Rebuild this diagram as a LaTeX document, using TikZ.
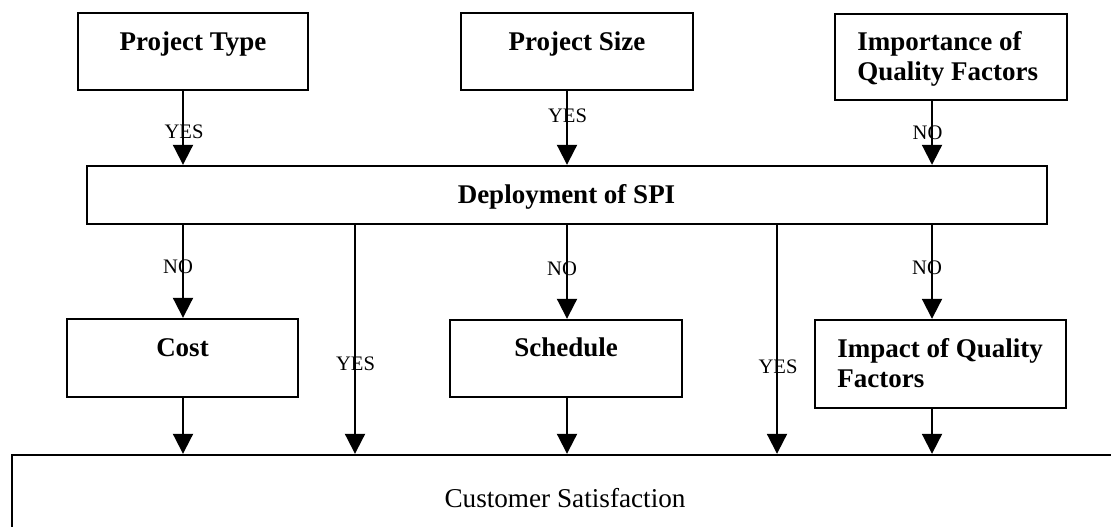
\documentclass[tikz,border=0pt]{standalone}
\usepackage{fontspec}
\setmainfont{Liberation Serif}
\usetikzlibrary{arrows.meta,fit}
\begin{document}
\begin{tikzpicture}[x=0.5pt,y=-0.5pt,
  box/.style={draw,line width=1.2pt,inner sep=0pt},
  arr/.style={line width=1pt,-{Triangle[length=10pt,width=10pt]}},
  txt/.style={font=\fontsize{13.5}{15}\selectfont\bfseries,inner sep=0pt,anchor=base},
  mtxt/.style={font=\fontsize{13.5}{15}\selectfont\bfseries,inner sep=0pt,anchor=north west,align=left},
  ctxt/.style={font=\fontsize{13.6}{15}\selectfont,inner sep=0pt,anchor=base},
  lbl/.style={font=\fontsize{10.3}{12}\selectfont,inner sep=0pt,anchor=base}]
\useasboundingbox (0,0) rectangle (1111,526);
\fill[white] (0,0) rectangle (1111,526);
\clip (0,0) rectangle (1111,526);

% column positions
\coordinate (c1) at (183,0);
\coordinate (c2) at (355,0);
\coordinate (c3) at (567,0);
\coordinate (c4) at (777,0);
\coordinate (c5) at (932,0);

% boxes
\node[box,fit={(78,13) (308,90)}] (pt) {};
\node[box,fit={(461,13) (693,90)}] (ps) {};
\node[box,fit={(835,14) (1067,100)}] (iq) {};
\node[box,fit={(87,166) (1047,224)}] (dep) {};
\node[box,fit={(67,319) (298,397)}] (cost) {};
\node[box,fit={(450,320) (682,397)}] (sch) {};
\node[box,fit={(815,320) (1066,408)}] (imp) {};
\node[box,fit={(12,455) (1130,560)}] (cs) {};

% texts
\node[txt] (tpt) at (193,50) {Project Type};
\node[txt] (tps) at (577,50) {Project Size};
\node[mtxt] (tiq) at (857,31.5) {Importance of\\Quality Factors};
\node[txt] (tdep) at (566.5,203) {Deployment of SPI};
\node[txt] (tcost) at (182.5,356) {Cost};
\node[txt] (tsch) at (566,356) {Schedule};
\node[mtxt] (timp) at (837,338.5) {Impact of Quality\\Factors};
\node[ctxt] (tcs) at (565,507) {Customer Satisfaction};

% connectors
\draw[arr] (pt.south -| c1) -- (dep.north -| c1);
\draw[arr] (ps.south -| c3) -- (dep.north -| c3);
\draw[arr] (iq.south -| c5) -- (dep.north -| c5);
\draw[arr] (dep.south -| c1) -- (cost.north -| c1);
\draw[arr] (dep.south -| c2) -- (cs.north -| c2);
\draw[arr] (dep.south -| c3) -- (sch.north -| c3);
\draw[arr] (dep.south -| c4) -- (cs.north -| c4);
\draw[arr] (dep.south -| c5) -- (imp.north -| c5);
\draw[arr] (cost.south -| c1) -- (cs.north -| c1);
\draw[arr] (sch.south -| c3) -- (cs.north -| c3);
\draw[arr] (imp.south -| c5) -- (cs.north -| c5);

% labels
\node[lbl] (l1) at (184,138) {YES};
\node[lbl] (l2) at (567.5,122) {YES};
\node[lbl] (l3) at (927.5,139) {NO};
\node[lbl] (l4) at (178,273) {NO};
\node[lbl] (l5) at (355.5,370) {YES};
\node[lbl] (l6) at (562,275) {NO};
\node[lbl] (l7) at (927,274) {NO};
\node[lbl] (l8) at (778,373) {YES};
\end{tikzpicture}
\end{document}
